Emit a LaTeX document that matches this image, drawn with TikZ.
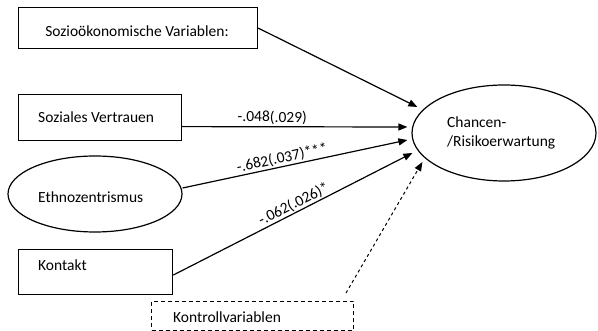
\documentclass[tikz,border=0pt]{standalone}
\usepackage{fontspec}
\setmainfont{Carlito}
\usetikzlibrary{arrows.meta,calc,shapes.geometric}
\begin{document}
\begin{tikzpicture}[x=1pt,y=-1pt,
  every node/.style={font=\fontsize{15.5}{19}\selectfont, inner sep=0pt},
  boxnode/.style={draw, line width=1.2pt, rectangle, anchor=north west},
  ellnode/.style={draw, line width=1.2pt, ellipse},
  conn/.style={line width=1.2pt, -{Triangle[length=9pt,width=7pt]}},
  coef/.style={font=\fontsize{15.5}{18}\selectfont, sloped, above, inner sep=1pt}]
\useasboundingbox (0,0) rectangle (598,331);
\clip (0,0) rectangle (598,331);
% boxes
\node[boxnode, minimum width=239pt, minimum height=41pt] (socio) at (18,7) {};
\node (sociotext) at (137,31) {Sozioökonomische Variablen:};
\node[boxnode, minimum width=163pt, minimum height=46pt] (vertrauen) at (18,94) {};
\node[anchor=west] (vertrauentext) at (38,117) {Soziales Vertrauen};
\node[ellnode, minimum width=174pt, minimum height=76pt] (ethno) at (95,194) {};
\node[anchor=west] (ethnotext) at (38,197) {Ethnozentrismus};
\node[boxnode, minimum width=154pt, minimum height=45pt] (kontakt) at (18,249) {};
\node[anchor=west] (kontakttext) at (38,265) {Kontakt};
\node[boxnode, dash pattern=on 4pt off 3pt, line width=1pt, minimum width=202pt, minimum height=29pt] (kontroll) at (151,301) {};
\node[anchor=west] (kontrolltext) at (173,317) {Kontrollvariablen};
\node[ellnode, minimum width=184pt, minimum height=96pt] (chance) at (504,133) {};
\node[anchor=west, align=left] (chancetext) at (447,133) {Chancen-\\/Risikoerwartung};
% connectors
\draw[conn] (socio.east) -- ($(chance.west)+(6,-26)$);
\draw[conn] ($(vertrauen.east)+(0,9)$) -- node[coef, pos=0.4, inner sep=2pt] (c1) {-.048(.029)} ($(chance.west)+(-4,-6)$);
\draw[conn] ($(ethno.east)+(0,-6)$) -- node[coef, pos=0.45] (c2) {-.682(.037)***} ($(chance.west)+(-4,7)$);
\draw[conn] ($(kontakt.east)+(0,3)$) -- node[coef, pos=0.52] (c3) {-.062(.026)*} ($(chance.west)+(1,20)$);
\draw[conn, line width=1pt, dash pattern=on 3pt off 3pt] ($(kontroll.north east)+(-8,-8)$) -- ($(chance.west)+(11,29)$);
\end{tikzpicture}
\end{document}
